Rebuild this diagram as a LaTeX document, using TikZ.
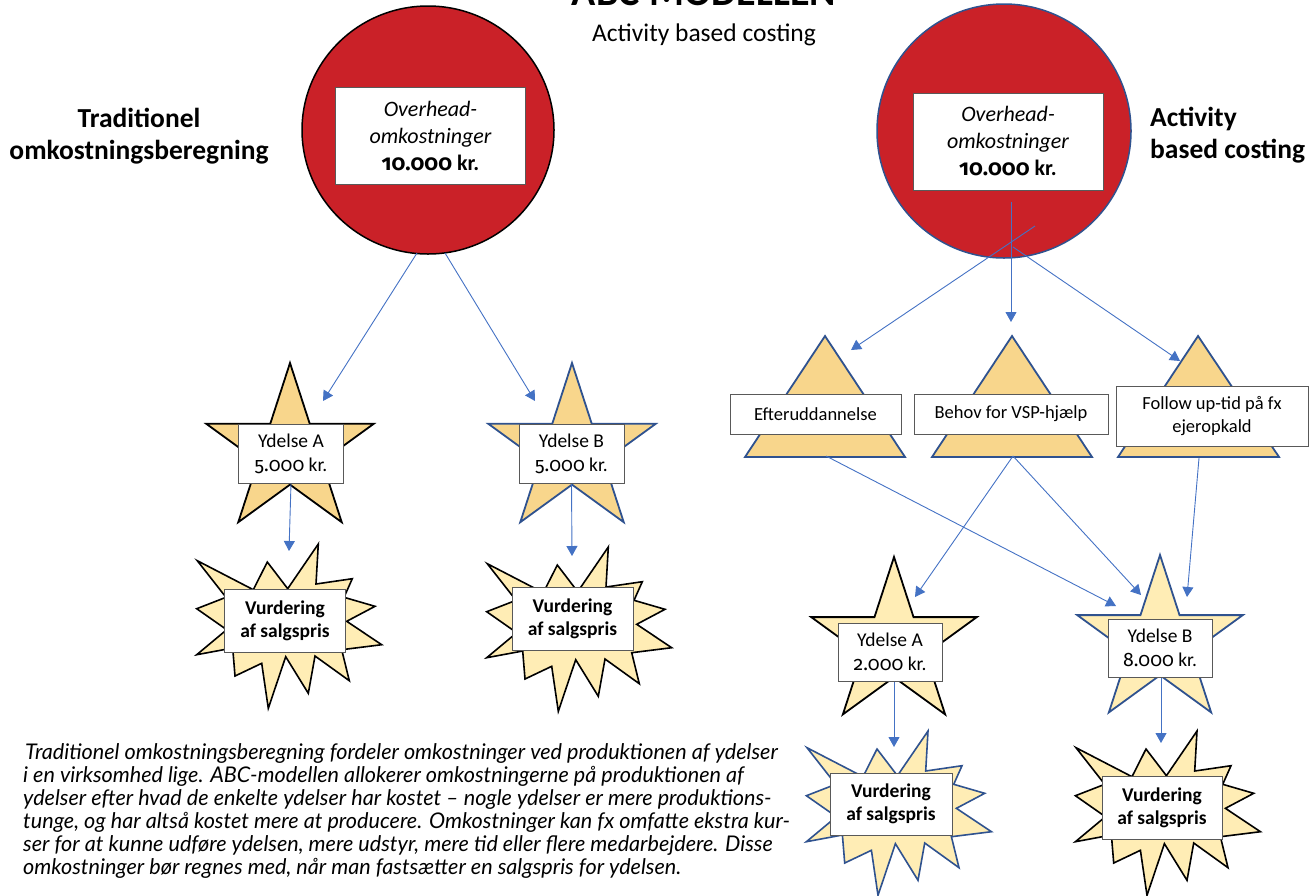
\documentclass[tikz,border=0pt]{standalone}
\usepackage{fontspec}
\setmainfont{Carlito}
\newfontfamily\numfont{Fira Sans}[Numbers=OldStyle]
\newfontfamily\notefont{Lato}
\usetikzlibrary{arrows.meta}
\definecolor{redfill}{HTML}{CA2128}
\definecolor{goldD}{HTML}{F8D68C}
\definecolor{goldL}{HTML}{FFEDB5}
\definecolor{navy}{HTML}{2F528F}
\definecolor{arrowblue}{HTML}{4472C4}
\definecolor{boxline}{HTML}{595959}
\tikzset{
  txtbox/.style={draw=boxline, line width=1pt, fill=white, inner sep=0pt, align=center},
  conn/.style={draw=arrowblue, line width=0.9pt, -{Triangle[length=10pt,width=11pt]}},
  starshape/.style={line width=1.8pt, line join=miter},
  burstshape/.style={line width=1.6pt, line join=miter, fill=goldL},
  trishape/.style={line width=1.8pt, draw=navy, fill=goldD, line join=miter},
  bigcircle/.style={fill=redfill, line width=1.5pt},
  sidelabel/.style={font=\fontsize{27.5}{32}\selectfont\bfseries, inner sep=0pt},
  ovtext/.style={txtbox, minimum width=190, minimum height=97, font=\fontsize{22}{27}\selectfont},
  ytext/.style={txtbox, minimum width=105, minimum height=59, font=\fontsize{19.5}{24}\selectfont},
  vtext/.style={txtbox, minimum width=121, minimum height=63, font=\fontsize{19.5}{23}\selectfont\bfseries},
  ttext/.style={txtbox, minimum height=40, font=\fontsize{18.5}{23}\selectfont},
  notetext/.style={anchor=base west, inner sep=0pt, font=\notefont\itshape\fontsize{21.6}{23}\selectfont}
}
\newcommand\starpath[3]{([shift={(#1,#2)}]-90:#3) -- ([shift={(#1,#2)}]-54:0.382*#3) -- ([shift={(#1,#2)}]-18:#3) -- ([shift={(#1,#2)}]18:0.382*#3) -- ([shift={(#1,#2)}]54:#3) -- ([shift={(#1,#2)}]90:0.382*#3) -- ([shift={(#1,#2)}]126:#3) -- ([shift={(#1,#2)}]162:0.382*#3) -- ([shift={(#1,#2)}]198:#3) -- ([shift={(#1,#2)}]234:0.382*#3) -- cycle}
\newcommand\burstpath{(128.3,6) -- (126,46) -- (162.3,40.7) -- (154,59.3) -- (185,68.3) -- (156.7,83.3) -- (191.7,106.7) -- (151.7,111.7) -- (159.3,142.7) -- (125,118) -- (118.3,155.3) -- (95.7,118.7) -- (78.3,170.3) -- (71.7,125.3) -- (45,138) -- (42.7,110) -- (6.7,116.7) -- (36.7,91.7) -- (6.7,70.7) -- (36,59.3) -- (7.3,22.7) -- (63.3,51.7) -- (77.3,24) -- (97.7,50.7) -- cycle}
\begin{document}
\begin{tikzpicture}[x=1pt,y=-1pt]
\useasboundingbox (0,0) rectangle (1316,895);
% titles
\node[anchor=base, inner sep=0pt, font=\fontsize{40}{44}\selectfont\bfseries] (title) at (704,5) {ABC-MODELLEN};
\node[anchor=base, inner sep=0pt, font=\fontsize{25.5}{30}\selectfont] (subtitle) at (704,41) {Activity based costing};
\node[sidelabel, anchor=base, align=center] (tradlabel) at (139,159) {Traditionel\\omkostningsberegning};
\node[sidelabel, anchor=base west, align=left] (abclabel) at (1150,158) {Activity\\based costing};
% circles
\draw[bigcircle, draw=black] (428,130) ellipse [x radius=126, y radius=124];
\draw[bigcircle, draw=navy] (1004,131) circle [radius=127];
\node[ovtext] (ovL) at (430.5,136) {\itshape Overhead-\\\itshape omkostninger\\\bfseries {\numfont 10.000} kr.};
\node[ovtext] (ovR) at (1008,141.5) {\itshape Overhead-\\\itshape omkostninger\\\bfseries {\numfont 10.000} kr.};
% left stars
\draw[starshape, fill=goldD, draw=black] \starpath{290}{451}{88};
\draw[starshape, fill=goldD, draw=navy] \starpath{572}{451}{88};
\node[ytext] (yA) at (291,453.5) {Ydelse A\\{\numfont 5.000} kr.};
\node[ytext] (yB) at (571.5,454) {Ydelse B\\{\numfont 5.000} kr.};
% left bursts
\draw[burstshape, draw=black, shift={(190,538)}] \burstpath;
\draw[burstshape, draw=black, shift={(480,541)}] \burstpath;
\node[vtext] (vA) at (285,620.5) {Vurdering\\af salgspris};
\node[vtext] (vB) at (572.5,619) {Vurdering\\af salgspris};
% triangles
\draw[trishape] (825,336) -- (905,457) -- (745,457) -- cycle;
\draw[trishape] (1012,336) -- (1092,457) -- (932,457) -- cycle;
\draw[trishape] (1198,336) -- (1279,457) -- (1118,457) -- cycle;
\node[ttext, minimum width=171] (t1) at (815.5,414) {Efteruddannelse};
\node[ttext, minimum width=194] (t2) at (1011,414) {Behov for VSP-hjælp};
\node[ttext, minimum width=192, minimum height=60] (t3) at (1212,416) {Follow up-tid på fx\\ejeropkald};
% right stars
\draw[starshape, fill=goldL, draw=black] \starpath{894}{644}{87};
\draw[starshape, fill=goldL, draw=navy] \starpath{1160}{642}{87};
\node[ytext, minimum width=104, minimum height=58] (yRA) at (890,652) {Ydelse A\\{\numfont 2.000} kr.};
\node[ytext, minimum width=104, minimum height=58] (yRB) at (1160,648) {Ydelse B\\{\numfont 8.000} kr.};
% right bursts
\draw[burstshape, draw=navy, shift={(799.7,725)}] \burstpath;
\draw[burstshape, draw=black, shift={(1068.7,725)}] \burstpath;
\node[vtext, minimum width=122, minimum height=62] (vRA) at (891,804) {Vurdering\\af salgspris};
\node[vtext, minimum width=120, minimum height=63] (vRB) at (1162,807.5) {Vurdering\\af salgspris};
% connector end points
\coordinate (cLa) at (417,253);
\coordinate (cLb) at (445,253);
\coordinate (eA) at (323,401);
\coordinate (eB) at (535,401);
\coordinate (eBA) at (289,551);
\coordinate (eBB) at (572,556);
\coordinate (cRv) at (1011,202);
\coordinate (cRl) at (1035,226);
\coordinate (cRr) at (1013,247);
\coordinate (eT1) at (851,350);
\coordinate (eT2) at (1011,322);
\coordinate (eT3) at (1180,361);
\coordinate (s1) at (826,456);
\coordinate (s2) at (1013,456);
\coordinate (s3) at (1199,458);
\coordinate (eRA) at (915,597);
\coordinate (eRB1) at (1116,606);
\coordinate (eRB2) at (1141,595);
\coordinate (eRB3) at (1187,597);
\coordinate (eVRA) at (894,747);
\coordinate (eVRB) at (1161,743);
% connectors
\draw[conn] (cLa) -- (eA);
\draw[conn] (cLb) -- (eB);
\draw[conn] (yA.south) -- (eBA);
\draw[conn] (yB.south) -- (eBB);
\draw[conn] (cRv) -- (eT2);
\draw[conn] (cRl) -- (eT1);
\draw[conn] (cRr) -- (eT3);
\draw[conn] (s1) -- (eRB1);
\draw[conn] (s2) -- (eRA);
\draw[conn] (s2) -- (eRB2);
\draw[conn] (s3) -- (eRB3);
\draw[conn] (yRA.south -| eVRA) -- (eVRA);
\draw[conn] (yRB.south -| eVRB) -- (eVRB);
% note
\node[notetext] (n1) at (25,759) {Traditionel omkostningsberegning fordeler omkostninger ved produktionen af ydelser};
\node[notetext] (n2) at (23,782) {i en virksomhed lige. ABC-modellen allokerer omkostningerne på produktionen af};
\node[notetext] (n3) at (23,805) {ydelser efter hvad de enkelte ydelser har kostet – nogle ydelser er mere produktions-};
\node[notetext] (n4) at (23,828) {tunge, og har altså kostet mere at producere. Omkostninger kan fx omfatte ekstra kur-};
\node[notetext] (n5) at (23,851) {ser for at kunne udføre ydelsen, mere udstyr, mere tid eller flere medarbejdere. Disse};
\node[notetext] (n6) at (23,874) {omkostninger bør regnes med, når man fastsætter en salgspris for ydelsen.};
\end{tikzpicture}
\end{document}
